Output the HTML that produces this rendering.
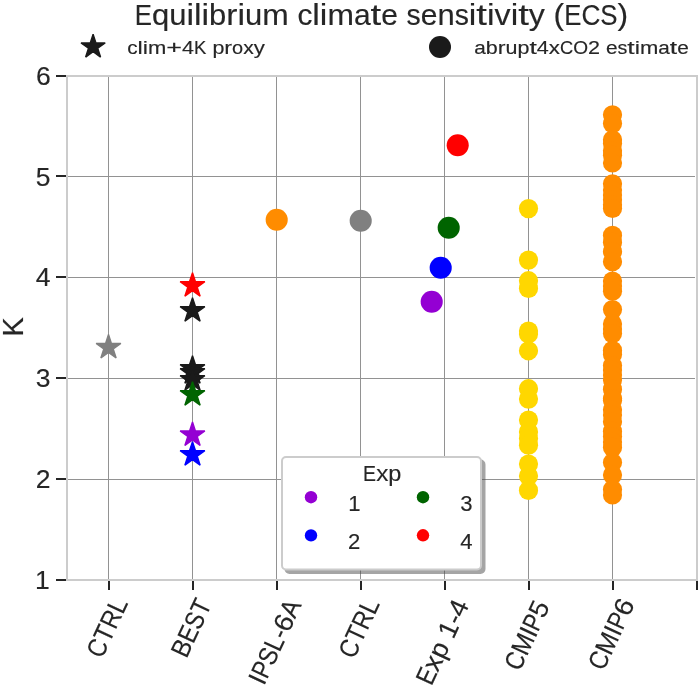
<!DOCTYPE html>
<html><head><meta charset="utf-8"><style>
html,body{margin:0;padding:0;background:#fff;}
body{width:700px;height:688px;overflow:hidden;font-family:"Liberation Sans",sans-serif;}
svg{display:block;will-change:transform;}
</style></head><body>
<svg width="700" height="688" viewBox="0 0 700 688" font-family="'Liberation Sans', sans-serif">
<rect width="700" height="688" fill="#fff"/>
<rect x="108" y="77" width="1" height="502" fill="#929292" shape-rendering="crispEdges"/>
<rect x="192" y="77" width="1" height="502" fill="#929292" shape-rendering="crispEdges"/>
<rect x="276" y="77" width="1" height="502" fill="#929292" shape-rendering="crispEdges"/>
<rect x="360" y="77" width="1" height="502" fill="#929292" shape-rendering="crispEdges"/>
<rect x="444" y="77" width="1" height="502" fill="#929292" shape-rendering="crispEdges"/>
<rect x="528" y="77" width="1" height="502" fill="#929292" shape-rendering="crispEdges"/>
<rect x="612" y="77" width="1" height="502" fill="#929292" shape-rendering="crispEdges"/>
<rect x="68" y="479" width="627" height="1" fill="#929292" shape-rendering="crispEdges"/>
<rect x="68" y="378" width="627" height="1" fill="#929292" shape-rendering="crispEdges"/>
<rect x="68" y="277" width="627" height="1" fill="#929292" shape-rendering="crispEdges"/>
<rect x="68" y="176" width="627" height="1" fill="#929292" shape-rendering="crispEdges"/>
<rect x="66" y="75" width="632" height="2" fill="#cccccc" shape-rendering="crispEdges"/>
<rect x="66" y="579" width="632" height="2" fill="#cccccc" shape-rendering="crispEdges"/>
<rect x="66" y="75" width="2" height="506" fill="#cccccc" shape-rendering="crispEdges"/>
<rect x="696" y="75" width="2" height="506" fill="#cccccc" shape-rendering="crispEdges"/>
<rect x="56" y="579" width="10" height="2" fill="#262626" shape-rendering="crispEdges"/>
<rect x="56" y="478" width="10" height="2" fill="#262626" shape-rendering="crispEdges"/>
<rect x="56" y="377" width="10" height="2" fill="#262626" shape-rendering="crispEdges"/>
<rect x="56" y="276" width="10" height="2" fill="#262626" shape-rendering="crispEdges"/>
<rect x="56" y="175" width="10" height="2" fill="#262626" shape-rendering="crispEdges"/>
<rect x="56" y="75" width="10" height="2" fill="#262626" shape-rendering="crispEdges"/>
<rect x="108" y="581" width="2" height="9" fill="#262626" shape-rendering="crispEdges"/>
<rect x="192" y="581" width="2" height="9" fill="#262626" shape-rendering="crispEdges"/>
<rect x="276" y="581" width="2" height="9" fill="#262626" shape-rendering="crispEdges"/>
<rect x="360" y="581" width="2" height="9" fill="#262626" shape-rendering="crispEdges"/>
<rect x="444" y="581" width="2" height="9" fill="#262626" shape-rendering="crispEdges"/>
<rect x="528" y="581" width="2" height="9" fill="#262626" shape-rendering="crispEdges"/>
<rect x="612" y="581" width="2" height="9" fill="#262626" shape-rendering="crispEdges"/>
<rect x="696" y="581" width="2" height="9" fill="#262626" shape-rendering="crispEdges"/>
<polygon points="108.50,334.50 105.58,343.48 96.14,343.48 103.78,349.03 100.86,358.02 108.50,352.47 116.14,358.02 113.22,349.03 120.86,343.48 111.42,343.48" fill="#808080" stroke="#808080" stroke-width="1.39" stroke-linejoin="bevel"/>
<polygon points="192.50,272.60 189.58,281.58 180.14,281.58 187.78,287.13 184.86,296.12 192.50,290.57 200.14,296.12 197.22,287.13 204.86,281.58 195.42,281.58" fill="#ff0000" stroke="#ff0000" stroke-width="1.39" stroke-linejoin="bevel"/>
<polygon points="192.50,297.60 189.58,306.58 180.14,306.58 187.78,312.13 184.86,321.12 192.50,315.57 200.14,321.12 197.22,312.13 204.86,306.58 195.42,306.58" fill="#1a1a1a" stroke="#1a1a1a" stroke-width="1.39" stroke-linejoin="bevel"/>
<polygon points="192.50,355.60 189.58,364.58 180.14,364.58 187.78,370.13 184.86,379.12 192.50,373.57 200.14,379.12 197.22,370.13 204.86,364.58 195.42,364.58" fill="#1a1a1a" stroke="#1a1a1a" stroke-width="1.39" stroke-linejoin="bevel"/>
<polygon points="192.50,359.60 189.58,368.58 180.14,368.58 187.78,374.13 184.86,383.12 192.50,377.57 200.14,383.12 197.22,374.13 204.86,368.58 195.42,368.58" fill="#1a1a1a" stroke="#1a1a1a" stroke-width="1.39" stroke-linejoin="bevel"/>
<polygon points="192.50,366.60 189.58,375.58 180.14,375.58 187.78,381.13 184.86,390.12 192.50,384.57 200.14,390.12 197.22,381.13 204.86,375.58 195.42,375.58" fill="#1a1a1a" stroke="#1a1a1a" stroke-width="1.39" stroke-linejoin="bevel"/>
<polygon points="192.50,381.60 189.58,390.58 180.14,390.58 187.78,396.13 184.86,405.12 192.50,399.57 200.14,405.12 197.22,396.13 204.86,390.58 195.42,390.58" fill="#006400" stroke="#006400" stroke-width="1.39" stroke-linejoin="bevel"/>
<polygon points="192.50,422.00 189.58,430.98 180.14,430.98 187.78,436.53 184.86,445.52 192.50,439.97 200.14,445.52 197.22,436.53 204.86,430.98 195.42,430.98" fill="#9400d3" stroke="#9400d3" stroke-width="1.39" stroke-linejoin="bevel"/>
<polygon points="192.50,441.60 189.58,450.58 180.14,450.58 187.78,456.13 184.86,465.12 192.50,459.57 200.14,465.12 197.22,456.13 204.86,450.58 195.42,450.58" fill="#0000ff" stroke="#0000ff" stroke-width="1.39" stroke-linejoin="bevel"/>
<circle cx="276.70" cy="219.70" r="11.05" fill="#ff8c00"/>
<circle cx="360.70" cy="220.70" r="11.05" fill="#808080"/>
<circle cx="431.70" cy="301.70" r="11.05" fill="#9400d3"/>
<circle cx="440.70" cy="267.70" r="11.05" fill="#0000ff"/>
<circle cx="448.70" cy="227.70" r="11.05" fill="#006400"/>
<circle cx="457.70" cy="145.20" r="11.05" fill="#ff0000"/>
<circle cx="528.50" cy="208.60" r="9.6" fill="#ffd700"/>
<circle cx="528.50" cy="260.10" r="9.6" fill="#ffd700"/>
<circle cx="528.50" cy="280.70" r="9.6" fill="#ffd700"/>
<circle cx="528.50" cy="288.40" r="9.6" fill="#ffd700"/>
<circle cx="528.50" cy="331.00" r="9.6" fill="#ffd700"/>
<circle cx="528.50" cy="334.00" r="9.6" fill="#ffd700"/>
<circle cx="528.50" cy="350.80" r="9.6" fill="#ffd700"/>
<circle cx="528.50" cy="388.70" r="9.6" fill="#ffd700"/>
<circle cx="528.50" cy="399.10" r="9.6" fill="#ffd700"/>
<circle cx="528.50" cy="420.00" r="9.6" fill="#ffd700"/>
<circle cx="528.50" cy="431.90" r="9.6" fill="#ffd700"/>
<circle cx="528.50" cy="438.50" r="9.6" fill="#ffd700"/>
<circle cx="528.50" cy="445.20" r="9.6" fill="#ffd700"/>
<circle cx="528.50" cy="464.00" r="9.6" fill="#ffd700"/>
<circle cx="528.50" cy="476.00" r="9.6" fill="#ffd700"/>
<circle cx="528.50" cy="490.40" r="9.6" fill="#ffd700"/>
<circle cx="612.50" cy="114.80" r="9.6" fill="#ff8c00"/>
<circle cx="612.50" cy="123.60" r="9.6" fill="#ff8c00"/>
<circle cx="612.50" cy="139.80" r="9.6" fill="#ff8c00"/>
<circle cx="612.50" cy="143.60" r="9.6" fill="#ff8c00"/>
<circle cx="612.50" cy="150.80" r="9.6" fill="#ff8c00"/>
<circle cx="612.50" cy="155.30" r="9.6" fill="#ff8c00"/>
<circle cx="612.50" cy="163.00" r="9.6" fill="#ff8c00"/>
<circle cx="612.50" cy="183.80" r="9.6" fill="#ff8c00"/>
<circle cx="612.50" cy="190.00" r="9.6" fill="#ff8c00"/>
<circle cx="612.50" cy="195.00" r="9.6" fill="#ff8c00"/>
<circle cx="612.50" cy="199.80" r="9.6" fill="#ff8c00"/>
<circle cx="612.50" cy="204.80" r="9.6" fill="#ff8c00"/>
<circle cx="612.50" cy="208.50" r="9.6" fill="#ff8c00"/>
<circle cx="612.50" cy="235.40" r="9.6" fill="#ff8c00"/>
<circle cx="612.50" cy="242.40" r="9.6" fill="#ff8c00"/>
<circle cx="612.50" cy="251.60" r="9.6" fill="#ff8c00"/>
<circle cx="612.50" cy="261.80" r="9.6" fill="#ff8c00"/>
<circle cx="612.50" cy="281.00" r="9.6" fill="#ff8c00"/>
<circle cx="612.50" cy="286.00" r="9.6" fill="#ff8c00"/>
<circle cx="612.50" cy="291.20" r="9.6" fill="#ff8c00"/>
<circle cx="612.50" cy="309.60" r="9.6" fill="#ff8c00"/>
<circle cx="612.50" cy="324.00" r="9.6" fill="#ff8c00"/>
<circle cx="612.50" cy="329.00" r="9.6" fill="#ff8c00"/>
<circle cx="612.50" cy="333.60" r="9.6" fill="#ff8c00"/>
<circle cx="612.50" cy="350.40" r="9.6" fill="#ff8c00"/>
<circle cx="612.50" cy="354.60" r="9.6" fill="#ff8c00"/>
<circle cx="612.50" cy="365.60" r="9.6" fill="#ff8c00"/>
<circle cx="612.50" cy="370.00" r="9.6" fill="#ff8c00"/>
<circle cx="612.50" cy="375.00" r="9.6" fill="#ff8c00"/>
<circle cx="612.50" cy="380.00" r="9.6" fill="#ff8c00"/>
<circle cx="612.50" cy="389.40" r="9.6" fill="#ff8c00"/>
<circle cx="612.50" cy="398.60" r="9.6" fill="#ff8c00"/>
<circle cx="612.50" cy="400.20" r="9.6" fill="#ff8c00"/>
<circle cx="612.50" cy="409.80" r="9.6" fill="#ff8c00"/>
<circle cx="612.50" cy="415.00" r="9.6" fill="#ff8c00"/>
<circle cx="612.50" cy="421.80" r="9.6" fill="#ff8c00"/>
<circle cx="612.50" cy="431.40" r="9.6" fill="#ff8c00"/>
<circle cx="612.50" cy="436.50" r="9.6" fill="#ff8c00"/>
<circle cx="612.50" cy="442.00" r="9.6" fill="#ff8c00"/>
<circle cx="612.50" cy="447.40" r="9.6" fill="#ff8c00"/>
<circle cx="612.50" cy="462.50" r="9.6" fill="#ff8c00"/>
<circle cx="612.50" cy="475.00" r="9.6" fill="#ff8c00"/>
<circle cx="612.50" cy="489.50" r="9.6" fill="#ff8c00"/>
<circle cx="612.50" cy="495.00" r="9.6" fill="#ff8c00"/>
<g opacity="0.5"><rect x="285.50" y="460.50" width="199.00" height="112.50" rx="4" fill="#4d4d4d" stroke="#4d4d4d" stroke-width="2"/></g>
<rect x="282.00" y="457.00" width="199.00" height="112.50" rx="4" fill="#ffffff" stroke="#cccccc" stroke-width="2"/>
<circle cx="311.00" cy="497.20" r="6.2" fill="#9400d3"/>
<circle cx="311.00" cy="535.40" r="6.2" fill="#0000ff"/>
<circle cx="423.00" cy="497.20" r="6.2" fill="#006400"/>
<circle cx="423.00" cy="535.30" r="6.2" fill="#ff0000"/>
<polygon points="93.10,34.10 90.25,42.88 81.02,42.88 88.49,48.30 85.64,57.07 93.10,51.65 100.56,57.07 97.71,48.30 105.18,42.88 95.95,42.88" fill="#1a1a1a" stroke="#1a1a1a" stroke-width="1.39" stroke-linejoin="bevel"/>
<circle cx="440.00" cy="47.00" r="11.0" fill="#1a1a1a"/>
<g font-size="29.9" fill="#262626" stroke="#262626" stroke-width="0.15" text-anchor="middle">
<text transform="translate(143.35,24.86) scale(0.861,1)">E</text>
<text transform="translate(160.56,24.86) scale(1.037,1)">q</text>
<text transform="translate(177.80,24.86) scale(1.036,1)">u</text>
<text transform="translate(190.19,24.86) scale(1.136,1)">i</text>
<text transform="translate(197.74,24.86) scale(1.136,1)">l</text>
<text transform="translate(205.29,24.86) scale(1.136,1)">i</text>
<text transform="translate(217.69,24.86) scale(1.037,1)">b</text>
<text transform="translate(231.90,24.86) scale(1.122,1)">r</text>
<text transform="translate(241.26,24.86) scale(1.136,1)">i</text>
<text transform="translate(253.65,24.86) scale(1.036,1)">u</text>
<text transform="translate(275.50,24.86) scale(1.063,1)">m</text>
<text transform="translate(304.85,24.86) scale(1.000,1)">c</text>
<text transform="translate(316.09,24.86) scale(1.136,1)">l</text>
<text transform="translate(323.64,24.86) scale(1.136,1)">i</text>
<text transform="translate(340.66,24.86) scale(1.063,1)">m</text>
<text transform="translate(362.22,24.86) scale(1.001,1)">a</text>
<text transform="translate(375.87,24.86) scale(1.283,1)">t</text>
<text transform="translate(389.56,24.86) scale(1.005,1)">e</text>
<text transform="translate(413.64,24.86) scale(0.947,1)">s</text>
<text transform="translate(429.08,24.86) scale(1.005,1)">e</text>
<text transform="translate(446.05,24.86) scale(1.036,1)">n</text>
<text transform="translate(461.75,24.86) scale(0.947,1)">s</text>
<text transform="translate(472.60,24.86) scale(1.136,1)">i</text>
<text transform="translate(481.70,24.86) scale(1.283,1)">t</text>
<text transform="translate(490.81,24.86) scale(1.136,1)">i</text>
<text transform="translate(502.62,24.86) scale(1.076,1)">v</text>
<text transform="translate(514.44,24.86) scale(1.136,1)">i</text>
<text transform="translate(523.54,24.86) scale(1.283,1)">t</text>
<text transform="translate(536.91,24.86) scale(1.076,1)">y</text>
<text transform="translate(558.89,24.86) scale(1.065,1)">(</text>
<text transform="translate(572.78,24.86) scale(0.861,1)">E</text>
<text transform="translate(590.86,24.86) scale(0.879,1)">C</text>
<text transform="translate(608.97,24.86) scale(0.865,1)">S</text>
<text transform="translate(622.90,24.86) scale(1.065,1)">)</text>
</g>
<g font-size="18.9" fill="#262626" stroke="#262626" stroke-width="0.15" text-anchor="middle">
<text transform="translate(132.34,53.50) scale(1.095,1)">c</text>
<text transform="translate(140.13,53.50) scale(1.245,1)">l</text>
<text transform="translate(145.36,53.50) scale(1.245,1)">i</text>
<text transform="translate(157.14,53.50) scale(1.164,1)">m</text>
<text transform="translate(174.19,53.50) scale(1.429,1)">+</text>
<text transform="translate(188.06,53.50) scale(1.139,1)">4</text>
<text transform="translate(200.22,53.50) scale(0.979,1)">K</text>
<text transform="translate(218.35,53.50) scale(1.137,1)">p</text>
<text transform="translate(228.19,53.50) scale(1.229,1)">r</text>
<text transform="translate(237.61,53.50) scale(1.056,1)">o</text>
<text transform="translate(248.44,53.50) scale(1.117,1)">x</text>
<text transform="translate(259.29,53.50) scale(1.179,1)">y</text>
</g>
<g font-size="18.9" fill="#262626" stroke="#262626" stroke-width="0.15" text-anchor="middle">
<text transform="translate(480.06,53.50) scale(1.098,1)">a</text>
<text transform="translate(491.82,53.50) scale(1.138,1)">b</text>
<text transform="translate(501.67,53.50) scale(1.231,1)">r</text>
<text transform="translate(511.51,53.50) scale(1.136,1)">u</text>
<text transform="translate(523.46,53.50) scale(1.138,1)">p</text>
<text transform="translate(533.14,53.50) scale(1.407,1)">t</text>
<text transform="translate(542.83,53.50) scale(1.140,1)">4</text>
<text transform="translate(554.39,53.50) scale(1.180,1)">x</text>
<text transform="translate(566.55,53.50) scale(0.964,1)">C</text>
<text transform="translate(580.54,53.50) scale(1.009,1)">O</text>
<text transform="translate(593.95,53.50) scale(1.140,1)">2</text>
<text transform="translate(611.73,53.50) scale(1.103,1)">e</text>
<text transform="translate(622.43,53.50) scale(1.039,1)">s</text>
<text transform="translate(631.03,53.50) scale(1.407,1)">t</text>
<text transform="translate(637.34,53.50) scale(1.246,1)">i</text>
<text transform="translate(649.14,53.50) scale(1.166,1)">m</text>
<text transform="translate(664.09,53.50) scale(1.098,1)">a</text>
<text transform="translate(673.56,53.50) scale(1.407,1)">t</text>
<text transform="translate(683.04,53.50) scale(1.103,1)">e</text>
</g>
<text x="49.70" y="588.90" font-size="26.5" fill="#262626" stroke="#262626" stroke-width="0.15" text-anchor="end">1</text>
<text x="50.50" y="488.06" font-size="26.5" fill="#262626" stroke="#262626" stroke-width="0.15" text-anchor="end">2</text>
<text x="50.50" y="387.22" font-size="26.5" fill="#262626" stroke="#262626" stroke-width="0.15" text-anchor="end">3</text>
<text x="50.50" y="286.38" font-size="26.5" fill="#262626" stroke="#262626" stroke-width="0.15" text-anchor="end">4</text>
<text x="50.50" y="185.54" font-size="26.5" fill="#262626" stroke="#262626" stroke-width="0.15" text-anchor="end">5</text>
<text x="50.67" y="84.70" font-size="26.5" fill="#262626" stroke="#262626" stroke-width="0.15" text-anchor="end">6</text>
<text x="0" y="0" font-size="29.4" fill="#262626" stroke="#262626" stroke-width="0.15" text-anchor="middle" transform="translate(22.58,326.94) rotate(-90)">K</text>
<g font-size="26.5" fill="#262626" stroke="#262626" stroke-width="0.15" text-anchor="middle" transform="translate(115.20,631.25) rotate(-65)">
<text transform="translate(-22.62,0.00) scale(0.886,1)">C</text>
<text transform="translate(-6.72,0.00) scale(0.917,1)">T</text>
<text transform="translate(9.13,0.00) scale(0.882,1)">R</text>
<text transform="translate(24.34,0.00) scale(0.918,1)">L</text>
</g>
<g font-size="26.5" fill="#262626" stroke="#262626" stroke-width="0.15" text-anchor="middle" transform="translate(199.30,631.72) rotate(-65)">
<text transform="translate(-22.20,0.00) scale(0.918,1)">B</text>
<text transform="translate(-6.62,0.00) scale(0.845,1)">E</text>
<text transform="translate(8.36,0.00) scale(0.849,1)">S</text>
<text transform="translate(23.09,0.00) scale(0.892,1)">T</text>
</g>
<g font-size="26.5" fill="#262626" stroke="#262626" stroke-width="0.15" text-anchor="middle" transform="translate(283.03,645.46) rotate(-65)">
<text transform="translate(-41.34,0.00) scale(0.958,1)">I</text>
<text transform="translate(-30.60,0.00) scale(0.816,1)">P</text>
<text transform="translate(-15.81,0.00) scale(0.858,1)">S</text>
<text transform="translate(-1.56,0.00) scale(0.904,1)">L</text>
<text transform="translate(9.20,0.00) scale(0.930,1)">-</text>
<text transform="translate(20.90,0.00) scale(1.032,1)">6</text>
<text transform="translate(36.69,0.00) scale(0.925,1)">A</text>
</g>
<g font-size="26.5" fill="#262626" stroke="#262626" stroke-width="0.15" text-anchor="middle" transform="translate(366.99,631.79) rotate(-65)">
<text transform="translate(-22.55,0.00) scale(0.883,1)">C</text>
<text transform="translate(-6.70,0.00) scale(0.913,1)">T</text>
<text transform="translate(9.10,0.00) scale(0.879,1)">R</text>
<text transform="translate(24.25,0.00) scale(0.915,1)">L</text>
</g>
<g font-size="26.5" fill="#262626" stroke="#262626" stroke-width="0.15" text-anchor="middle" transform="translate(450.59,645.73) rotate(-65)">
<text transform="translate(-37.62,0.00) scale(0.846,1)">E</text>
<text transform="translate(-23.13,0.00) scale(1.058,1)">x</text>
<text transform="translate(-8.61,0.00) scale(1.020,1)">p</text>
<text transform="translate(13.96,0.00) scale(1.022,1)">1</text>
<text transform="translate(25.77,0.00) scale(0.968,1)">-</text>
<text transform="translate(37.57,0.00) scale(1.022,1)">4</text>
</g>
<g font-size="26.5" fill="#262626" stroke="#262626" stroke-width="0.15" text-anchor="middle" transform="translate(535.06,638.99) rotate(-65)">
<text transform="translate(-28.11,0.00) scale(0.856,1)">C</text>
<text transform="translate(-9.80,0.00) scale(0.917,1)">M</text>
<text transform="translate(3.77,0.00) scale(0.940,1)">I</text>
<text transform="translate(14.31,0.00) scale(0.800,1)">P</text>
<text transform="translate(28.84,0.00) scale(1.013,1)">5</text>
</g>
<g font-size="26.5" fill="#262626" stroke="#262626" stroke-width="0.15" text-anchor="middle" transform="translate(619.38,637.88) rotate(-65)">
<text transform="translate(-29.02,0.00) scale(0.883,1)">C</text>
<text transform="translate(-10.12,0.00) scale(0.946,1)">M</text>
<text transform="translate(3.90,0.00) scale(0.970,1)">I</text>
<text transform="translate(14.77,0.00) scale(0.826,1)">P</text>
<text transform="translate(29.77,0.00) scale(1.045,1)">6</text>
</g>
<g font-size="21.9" fill="#262626" stroke="#262626" stroke-width="0.15" text-anchor="middle">
<text transform="translate(369.62,480.90) scale(0.891,1)">E</text>
<text transform="translate(382.23,480.90) scale(1.114,1)">x</text>
<text transform="translate(394.87,480.90) scale(1.074,1)">p</text>
</g>
<text x="348.16" y="511.10" font-size="22.1" fill="#262626" stroke="#262626" stroke-width="0.15" text-anchor="start">1</text>
<text x="348.04" y="549.10" font-size="22.1" fill="#262626" stroke="#262626" stroke-width="0.15" text-anchor="start">2</text>
<text x="460.16" y="511.10" font-size="22.1" fill="#262626" stroke="#262626" stroke-width="0.15" text-anchor="start">3</text>
<text x="460.35" y="549.10" font-size="22.1" fill="#262626" stroke="#262626" stroke-width="0.15" text-anchor="start">4</text>
</svg>
</body></html>
